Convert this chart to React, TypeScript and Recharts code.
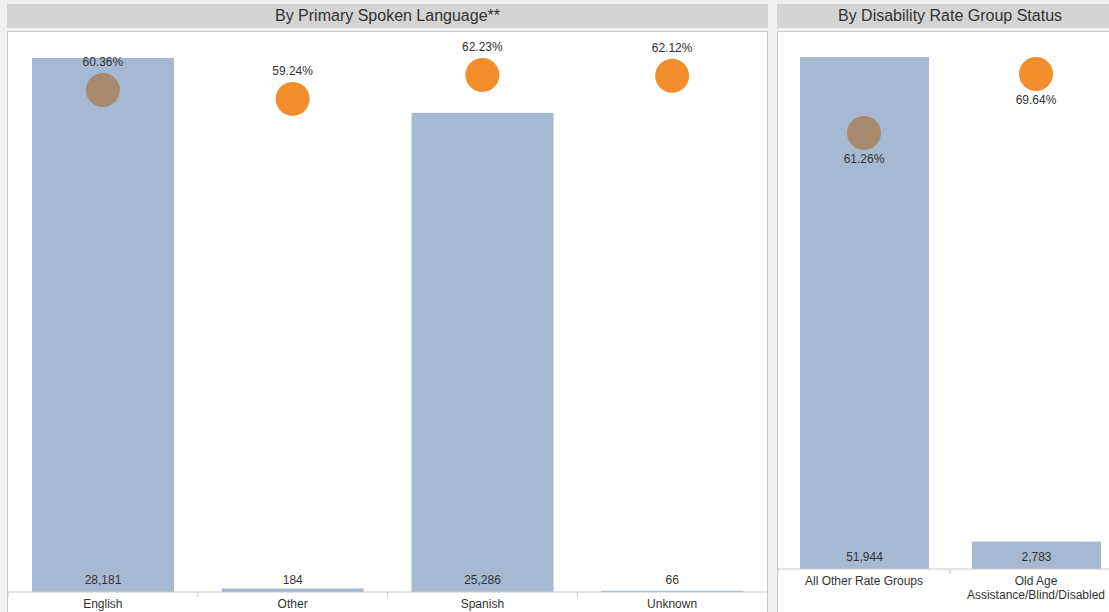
import * as React from "react";
import { Bar, ComposedChart, Scatter, Text, XAxis, YAxis } from "recharts";

// Panel 1: by primary spoken language
const languages = ["English", "Other", "Spanish", "Unknown"];
const languageCounts = [28181, 184, 25286, 66];
const languageRates = [60.36, 59.24, 62.23, 62.12];

// Panel 2: by disability rate group status
const rateGroups = ["All Other Rate Groups", "Old Age Assistance/Blind/Disabled"];
const rateGroupCounts = [51944, 2783];
const rateGroupRates = [61.26, 69.64];

const FONT = '"Liberation Sans", Arial, sans-serif';
const COLORS = {
  page: "#f0f0f0",
  header: "#d4d4d4",
  frame: "#c8c8c8",
  bar: "#a5b9d2",
  total: "#a88a6c",
  group: "#f28e2b",
  text: "#333333",
};

type Row = { name: string; count: number; rate: number; first: boolean };

const toRows = (names: string[], counts: number[], rates: number[]): Row[] =>
  names.map((name, i) => ({ name, count: counts[i], rate: rates[i], first: i === 0 }));

const fmtCount = (v: number) => v.toLocaleString("en-US");
const fmtRate = (v: number) => `${v.toFixed(2)}%`;

function CountBar(props: any) {
  const { x, y, width, height, payload } = props;
  return (
    <g>
      <rect x={x} y={y} width={width} height={Math.max(height, 0)} fill={COLORS.bar} />
      <text
        x={x + width / 2}
        y={y + height - 12}
        textAnchor="middle"
        dominantBaseline="central"
        fontSize={12}
        fontFamily={FONT}
        fill={COLORS.text}
      >
        {fmtCount(payload.count)}
      </text>
    </g>
  );
}

function RateDot(props: any & { labelDy: number }) {
  const { cx, cy, payload, labelDy } = props;
  return (
    <g>
      <circle cx={cx} cy={cy} r={17} fill={payload.first ? COLORS.total : COLORS.group} />
      <text
        x={cx}
        y={cy + labelDy}
        textAnchor="middle"
        dominantBaseline="central"
        fontSize={12}
        fontFamily={FONT}
        fill={COLORS.text}
      >
        {fmtRate(payload.rate)}
      </text>
    </g>
  );
}

function CategoryTick(props: any) {
  const { x, y, payload, band } = props;
  return (
    <g>
      <line x1={x - band / 2} x2={x - band / 2} y1={y} y2={y + 5} stroke={COLORS.frame} />
      <Text
        x={x}
        y={y + 7}
        width={band - 8}
        textAnchor="middle"
        verticalAnchor="start"
        lineHeight="1.2em"
        fontSize={12}
        fontFamily={FONT}
        fill={COLORS.text}
      >
        {payload.value}
      </Text>
    </g>
  );
}

function Panel(props: {
  rows: Row[];
  width: number;
  height: number;
  axisHeight: number;
  countMax: number;
  rateDomain: [number, number];
  labelDy: number;
}) {
  const { rows, width, height, axisHeight, countMax, rateDomain, labelDy } = props;
  const band = width / rows.length;
  return (
    <ComposedChart
      width={width}
      height={height}
      data={rows}
      margin={{ top: 0, right: 0, bottom: 0, left: 0 }}
      barCategoryGap="12%"
    >
      <XAxis
        dataKey="name"
        height={axisHeight}
        interval={0}
        axisLine={{ stroke: COLORS.frame }}
        tickLine={false}
        tickSize={0}
        tickMargin={0}
        tick={(p: any) => <CategoryTick {...p} band={band} />}
      />
      <YAxis yAxisId="count" hide domain={[0, countMax]} />
      <YAxis yAxisId="rate" hide domain={rateDomain} />
      <Bar
        yAxisId="count"
        dataKey="count"
        barSize={Math.round(band * 0.75)}
        shape={(p: any) => <CountBar {...p} />}
        isAnimationActive={false}
      />
      <Scatter
        yAxisId="rate"
        dataKey="rate"
        shape={(p: any) => <RateDot {...p} labelDy={labelDy} />}
        isAnimationActive={false}
      />
    </ComposedChart>
  );
}

const headerStyle: React.CSSProperties = {
  position: "absolute",
  top: 4,
  height: 24,
  background: COLORS.header,
  color: COLORS.text,
  fontFamily: FONT,
  fontSize: 16,
  lineHeight: "24px",
  textAlign: "center",
};

const frameStyle: React.CSSProperties = {
  position: "absolute",
  top: 31,
  height: 600,
  background: "#ffffff",
  border: `1px solid ${COLORS.frame}`,
  boxSizing: "border-box",
};

export default function App() {
  const languageRows = toRows(languages, languageCounts, languageRates);
  const groupRows = toRows(rateGroups, rateGroupCounts, rateGroupRates);

  return (
    <div
      style={{
        position: "fixed",
        left: 0,
        top: 0,
        width: 1109,
        height: 612,
        overflow: "hidden",
        background: COLORS.page,
      }}
    >
      <div style={{ ...headerStyle, left: 7, width: 761 }}>By Primary Spoken Language**</div>
      <div style={{ ...frameStyle, left: 7, width: 761 }}>
        <Panel
          rows={languageRows}
          width={759}
          height={580}
          axisHeight={20}
          countMax={29553}
          rateDomain={[-2.4, 67.6]}
          labelDy={-28}
        />
      </div>

      <div style={{ ...headerStyle, left: 777, width: 346 }}>By Disability Rate Group Status</div>
      <div style={{ ...frameStyle, left: 777, width: 346 }}>
        <Panel
          rows={groupRows}
          width={344}
          height={580}
          axisHeight={43}
          countMax={54480}
          rateDomain={[-0.7, 75.6]}
          labelDy={26}
        />
      </div>
    </div>
  );
}
